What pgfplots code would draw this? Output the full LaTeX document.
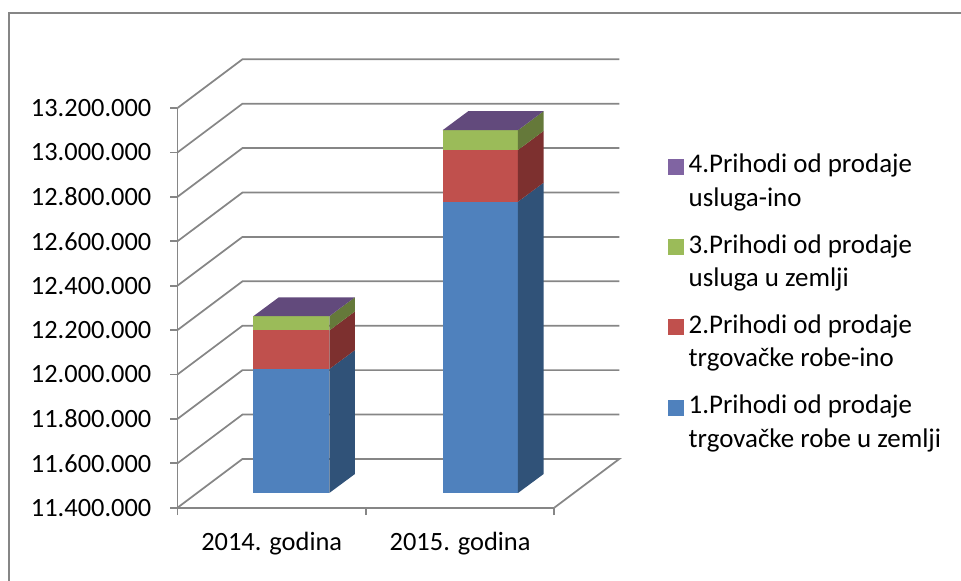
\documentclass[border=0pt]{standalone}
\usepackage{pgfplots}
\usepackage{fontspec}
\setmainfont{Carlito}
\pgfplotsset{compat=1.18}
\definecolor{gridc}{RGB}{134,134,134}
\definecolor{bluef}{RGB}{79,129,189}
\definecolor{blues}{RGB}{48,82,120}
\definecolor{redf}{RGB}{192,80,77}
\definecolor{reds}{RGB}{125,48,47}
\definecolor{greenf}{RGB}{155,187,89}
\definecolor{greens}{RGB}{101,121,58}
\definecolor{purpf}{RGB}{128,100,162}
\definecolor{purpt}{RGB}{98,74,124}
\begin{document}
\begin{tikzpicture}
\path[use as bounding box] (0,0) rectangle (720.75pt,435.75pt);
\draw[gridc,line width=1.4pt] (6.75pt,0) -- (6.75pt,425.9pt) -- (720.75pt,425.9pt);
\begin{axis}[
  at={(133.125pt,54.975pt)}, anchor=south west,
  scale only axis, width=282.6pt, height=299.775pt,
  clip=false,
  xmin=0, xmax=2, ymin=11400000, ymax=13200000,
  axis lines=left,
  axis line style={-, gridc, line width=1.3pt},
  ytick={11400000,11600000,11800000,12000000,12200000,12400000,12600000,12800000,13000000,13200000},
  scaled y ticks=false,
  tick align=outside,
  tick style={gridc, line width=1.3pt},
  major tick length=5.6pt,
  yticklabel style={/pgf/number format/.cd, fixed, precision=0, 1000 sep={.}, assume math mode=true, /tikz/.cd, font=\fontsize{19.8pt}{22pt}\selectfont, xshift=-10.5pt},
  xtick={0,1,2},
  xticklabels={,,},
  extra x ticks={0.5,1.5},
  extra x tick labels={2014. godina,2015. godina},
  extra x tick style={major tick length=0pt, tick style={draw=none},
    xticklabel style={font=\fontsize{19.8pt}{22pt}\selectfont, yshift=-14.5pt}},
  legend style={at={(1.29,0.892)}, anchor=north west, draw=none, fill=none,
    font=\fontsize{20.2pt}{25pt}\selectfont, row sep=44.7pt,
    nodes={align=left, anchor=base west, inner sep=0pt, inner xsep=4pt},
    /tikz/every even column/.append style={column sep=0pt}},
  legend cell align=left,
]
% walls
\addplot[gridc,line width=1.3pt,forget plot] coordinates {(0,11400000)(0.345,11619500)(2.345,11619500)(2,11400000)};
\addplot[gridc,line width=1.3pt,forget plot] coordinates {(0,11600000)(0.345,11819500)(2.345,11819500)};
\addplot[gridc,line width=1.3pt,forget plot] coordinates {(0,11800000)(0.345,12019500)(2.345,12019500)};
\addplot[gridc,line width=1.3pt,forget plot] coordinates {(0,12000000)(0.345,12219500)(2.345,12219500)};
\addplot[gridc,line width=1.3pt,forget plot] coordinates {(0,12200000)(0.345,12419500)(2.345,12419500)};
\addplot[gridc,line width=1.3pt,forget plot] coordinates {(0,12400000)(0.345,12619500)(2.345,12619500)};
\addplot[gridc,line width=1.3pt,forget plot] coordinates {(0,12600000)(0.345,12819500)(2.345,12819500)};
\addplot[gridc,line width=1.3pt,forget plot] coordinates {(0,12800000)(0.345,13019500)(2.345,13019500)};
\addplot[gridc,line width=1.3pt,forget plot] coordinates {(0,13000000)(0.345,13219500)(2.345,13219500)};
\addplot[gridc,line width=1.3pt,forget plot] coordinates {(0,13200000)(0.345,13419500)(2.345,13419500)};
% 2014 bar: front faces
\addplot[fill=bluef,draw=none,forget plot,yshift=11.025pt] coordinates {(0.4023,11400000)(0.8057,11400000)(0.8057,11958000)(0.4023,11958000)} --cycle;
\addplot[fill=redf,draw=none,forget plot,yshift=11.025pt] coordinates {(0.4023,11958000)(0.8057,11958000)(0.8057,12132000)(0.4023,12132000)} --cycle;
\addplot[fill=greenf,draw=none,forget plot,yshift=11.025pt] coordinates {(0.4023,12132000)(0.8057,12132000)(0.8057,12196000)(0.4023,12196000)} --cycle;
% 2014 bar: side faces
\addplot[fill=blues,draw=none,forget plot,yshift=11.025pt] coordinates {(0.8057,11400000)(0.9417,11485500)(0.9417,12043500)(0.8057,11958000)} --cycle;
\addplot[fill=reds,draw=none,forget plot,yshift=11.025pt] coordinates {(0.8057,11958000)(0.9417,12043500)(0.9417,12217500)(0.8057,12132000)} --cycle;
\addplot[fill=greens,draw=none,forget plot,yshift=11.025pt] coordinates {(0.8057,12132000)(0.9417,12217500)(0.9417,12281500)(0.8057,12196000)} --cycle;
% 2014 bar: top
\addplot[fill=purpt,draw=none,forget plot,yshift=11.025pt] coordinates {(0.4023,12196000)(0.8057,12196000)(0.9417,12281500)(0.5383,12281500)} --cycle;
% 2015 bar: front faces
\addplot[fill=bluef,draw=none,forget plot,yshift=11.025pt] coordinates {(1.4076,11400000)(1.8073,11400000)(1.8073,12712000)(1.4076,12712000)} --cycle;
\addplot[fill=redf,draw=none,forget plot,yshift=11.025pt] coordinates {(1.4076,12712000)(1.8073,12712000)(1.8073,12945000)(1.4076,12945000)} --cycle;
\addplot[fill=greenf,draw=none,forget plot,yshift=11.025pt] coordinates {(1.4076,12945000)(1.8073,12945000)(1.8073,13034000)(1.4076,13034000)} --cycle;
% 2015 bar: side faces
\addplot[fill=blues,draw=none,forget plot,yshift=11.025pt] coordinates {(1.8073,11400000)(1.9433,11485500)(1.9433,12797500)(1.8073,12712000)} --cycle;
\addplot[fill=reds,draw=none,forget plot,yshift=11.025pt] coordinates {(1.8073,12712000)(1.9433,12797500)(1.9433,13030500)(1.8073,12945000)} --cycle;
\addplot[fill=greens,draw=none,forget plot,yshift=11.025pt] coordinates {(1.8073,12945000)(1.9433,13030500)(1.9433,13119500)(1.8073,13034000)} --cycle;
% 2015 bar: top
\addplot[fill=purpt,draw=none,forget plot,yshift=11.025pt] coordinates {(1.4076,13034000)(1.8073,13034000)(1.9433,13119500)(1.5436,13119500)} --cycle;
% legend
\addlegendimage{legend image code/.code={\fill[purpf] (1pt,-1pt) rectangle (12.25pt,10.25pt);}}
\addlegendentry{\parbox[t]{200pt}{4.Prihodi od prodaje\\usluga-ino}}
\addlegendimage{legend image code/.code={\fill[greenf] (1pt,-1pt) rectangle (12.25pt,10.25pt);}}
\addlegendentry{\parbox[t]{200pt}{3.Prihodi od prodaje\\usluga u zemlji}}
\addlegendimage{legend image code/.code={\fill[redf] (1pt,-1pt) rectangle (12.25pt,10.25pt);}}
\addlegendentry{\parbox[t]{200pt}{2.Prihodi od prodaje\\trgovačke robe-ino}}
\addlegendimage{legend image code/.code={\fill[bluef] (1pt,-1pt) rectangle (12.25pt,10.25pt);}}
\addlegendentry{\parbox[t]{200pt}{1.Prihodi od prodaje\\trgovačke robe u zemlji}}
\end{axis}
\end{tikzpicture}
\end{document}
